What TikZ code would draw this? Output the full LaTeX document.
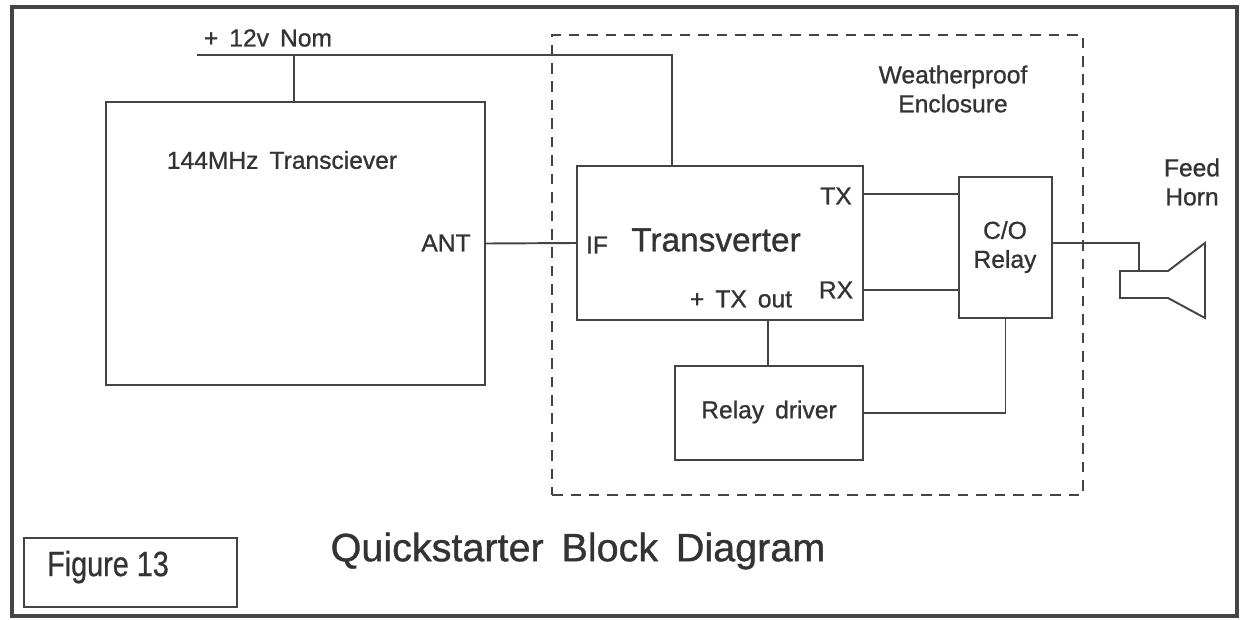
\documentclass[tikz,border=0pt]{standalone}
\usepackage{fontspec}
\setmainfont{Liberation Sans}[FakeBold=0.9]
\newfontfamily\narrowfont[FakeStretch=0.82,FakeBold=0.6]{Liberation Sans}
\newcommand{\ws}{\hspace{0.45em}}
\definecolor{ink}{HTML}{333333}
\definecolor{wire}{HTML}{444444}
\begin{document}
\begin{tikzpicture}[x=0.02cm,y=-0.02cm,
  every node/.style={text=ink},
  blk/.style={draw=wire,line width=1.1pt,rectangle,inner sep=0pt},
  wireln/.style={draw=wire,line width=1.1pt},
  encl/.style={draw=wire,line width=1.2pt,dash pattern=on 6pt off 4.5pt,rectangle,inner sep=0pt},
  lbl/.style={font=\fontsize{14}{16.5}\selectfont,inner sep=0pt,align=center},
  big/.style={font=\fontsize{19}{22}\selectfont,inner sep=0pt},
  ttl/.style={font=\fontsize{22.5}{26}\selectfont,inner sep=0pt}]
\useasboundingbox (0,0) rectangle (1241,619);
\fill[white] (0,0) rectangle (1241,619);
% outer frame
\node[draw=wire,line width=2.3pt,rectangle,inner sep=0pt,minimum width=24.5cm,minimum height=12.18cm] (frame) at (624.5,311.5) {};
% enclosure
\node[encl,minimum width=10.62cm,minimum height=9.2cm] (enc) at (817.5,265) {};
% blocks
\node[blk,minimum width=7.58cm,minimum height=5.66cm] (tr) at (295.5,243.5) {};
\node[blk,minimum width=5.72cm,minimum height=3.08cm] (tv) at (720,243) {};
\node[blk,minimum width=1.86cm,minimum height=2.82cm] (rl) at (1005.5,247.5) {};
\node[blk,minimum width=3.76cm,minimum height=1.88cm] (dr) at (769,413) {};
\node[blk,minimum width=4.26cm,minimum height=1.38cm] (fig) at (130.5,572.5) {};
% labels
\node[lbl] (l12) at (268,38) {+\ws 12v\ws Nom};
\node[lbl] (ltr) at (282,160) {144MHz\ws Transciever};
\node[lbl] (lant) at (446,243) {ANT};
\node[lbl] (lif) at (597,245) {IF};
\node[big] (ltv) at (716,240) {Transverter};
\node[lbl] (ltx) at (836,196) {TX};
\node[lbl] (lrx) at (836,290) {RX};
\node[lbl] (ltxo) at (741,299) {+\ws TX\ws out};
\node[lbl] (lrl) at (1005,247) {C/O\\Relay};
\node[lbl] (ldr) at (769,412) {Relay\ws driver};
\node[lbl] (lwp) at (953,89) {Weatherproof\\Enclosure};
\node[lbl] (lfh) at (1192,182) {Feed\\Horn};
\node[inner sep=0pt,font=\narrowfont\fontsize{20}{24}\selectfont] (lfig) at (108,567) {Figure 13};
\node[ttl] (lttl) at (578,551) {Quickstarter\ws Block\ws Diagram};
% coordinates
\coordinate (v12) at (197,55);
\coordinate (v12end) at (672,55);
\coordinate (tap) at (294,55);
\coordinate (txy) at (0,194);
\coordinate (rxy) at (0,290);
\coordinate (txo) at (768,0);
\coordinate (hy) at (0,243);
\coordinate (hornjoin) at (1139,271);
% connectors
\draw[wireln] (v12) -- (v12end) -- (v12end |- tv.north);
\draw[wireln] (tap) -- (tap |- tr.north);
\draw[wireln] (tr.east) -- (tv.west);
\draw[wireln] (tv.east |- txy) -- (rl.west |- txy);
\draw[wireln] (tv.east |- rxy) -- (rl.west |- rxy);
\draw[wireln] (tv.south -| txo) -- (dr.north -| txo);
\draw[wireln] (dr.east) -- (dr.east -| rl.south) -- (rl.south);
\draw[wireln] (rl.east |- hy) -- (hornjoin |- hy) -- (hornjoin);
% feed horn
\draw[wireln,line join=miter] (1120,271) -- (1168,271) -- (1205,243) -- (1205,318) -- (1168,298) -- (1120,298) -- cycle;
\end{tikzpicture}
\end{document}
